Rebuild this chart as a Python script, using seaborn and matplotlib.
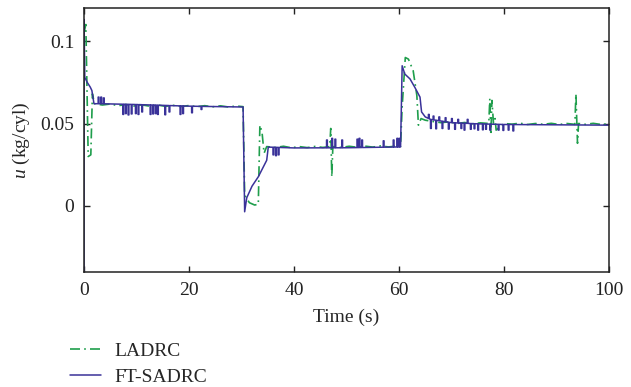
import numpy as np
import pandas as pd
import matplotlib
matplotlib.use("Agg")
import matplotlib.pyplot as plt
import seaborn as sns

# ---------------- data ----------------
x_ticks = [0, 20, 40, 60, 80, 100]
y_ticks = [0, 0.05, 0.1]
y_tick_labels = ["0", "0.05", "0.1"]
series_names = ["LADRC", "FT-SADRC"]

# FT-SADRC base trajectory (time s, u kg/cyl)
ft_t = [0, 0.02, 0.06, 0.15, 0.6, 1.2, 1.5, 1.9, 3.0, 10, 20, 30.3,
        30.6, 31.0, 32.0, 33.2, 34.8, 35.1, 40, 50, 60.3,
        60.6, 61.1, 62.1, 63.0, 64.0, 64.3, 65.0, 66, 70, 75, 80, 90, 100]
ft_u = [-0.040, 0.113, 0.100, 0.078, 0.075, 0.072, 0.070, 0.062, 0.062, 0.0615, 0.0605, 0.0600,
        -0.0035, 0.005, 0.012, 0.0177, 0.0277, 0.0357, 0.0352, 0.0353, 0.0358,
        0.085, 0.080, 0.077, 0.072, 0.066, 0.057, 0.054, 0.0525, 0.0505, 0.0498, 0.0494, 0.0492, 0.0490]

# FT-SADRC switching pulses (time s, pulse level)
ft_pulse_t = [2.7, 3.2, 3.7,
              7.4, 7.9, 8.4, 9.0, 9.8, 10.3, 11.0, 12.6, 13.1, 13.6, 14.0, 15.4, 16.2,
              18.3, 18.8, 20.5, 22.3,
              36.0, 36.5, 37.0,
              46.2, 47.2, 47.8, 49.1, 52.0, 52.4, 52.9, 57.0, 58.9, 59.6, 60.0,
              65.6, 66.0, 66.5, 67.0, 67.6, 68.2, 68.8, 69.4, 70.0, 70.6, 71.2, 71.8,
              72.4, 73.0, 73.6, 74.3, 75.0, 75.9, 76.5, 77.3, 78.9, 79.8, 80.8, 81.7]
ft_pulse_u = [0.066, 0.066, 0.0655,
              0.0555, 0.056, 0.0552, 0.0558, 0.056, 0.0555, 0.057, 0.0555, 0.0558, 0.056, 0.0555,
              0.0553, 0.057, 0.0555, 0.056, 0.0565, 0.0585,
              0.031, 0.0305, 0.031,
              0.040, 0.041, 0.0405, 0.040, 0.0405, 0.041, 0.040, 0.0395, 0.040, 0.041, 0.041,
              0.0555, 0.047, 0.0545, 0.0468, 0.054, 0.047, 0.0535, 0.0466, 0.053, 0.0465,
              0.0525, 0.047, 0.046, 0.0525, 0.0465, 0.0468, 0.046, 0.0462, 0.0465, 0.046,
              0.046, 0.0458, 0.046, 0.0455]

# LADRC trajectory, by segment (time s, u kg/cyl)
lad_t_start = [0.0, 0.35, 0.8, 1.3, 1.6, 2.0]
lad_u_start = [0.105, 0.110, 0.030, 0.031, 0.068, 0.062]
lad_t_a = [3.5, 5.0, 6.5, 8.0, 9.5, 11.0, 12.5, 14.0, 15.5, 17.0, 18.5, 20.0, 21.5,
           23.0, 24.5, 26.0, 27.5, 29.0, 30.3]
lad_u_a = [0.0612, 0.0618, 0.0608, 0.0615, 0.0606, 0.0613, 0.0605, 0.0612, 0.0604, 0.0610,
           0.0603, 0.0609, 0.0602, 0.0608, 0.0601, 0.0607, 0.0600, 0.0606, 0.0602]
lad_t_b = [30.6, 31.5, 32.5, 33.2, 33.5, 33.9, 34.3, 34.8]
lad_u_b = [0.0066, 0.0020, 0.0006, 0.0010, 0.0490, 0.0450, 0.0320, 0.0360]
lad_t_c = [36.5, 38.0, 39.5, 41.0, 42.5, 44.0, 45.5, 46.8, 47.0, 47.2, 47.4, 49.0, 50.5,
           52.0, 53.5, 55.0, 56.5, 58.0, 59.5, 60.3]
lad_u_c = [0.0355, 0.0362, 0.0353, 0.0360, 0.0354, 0.0361, 0.0355, 0.0360, 0.0470, 0.0176,
           0.0360, 0.0355, 0.0362, 0.0356, 0.0363, 0.0357, 0.0364, 0.0358, 0.0363, 0.0362]
lad_t_d = [60.6, 61.2, 61.8, 62.7, 63.4, 63.7, 64.2, 65.0]
lad_u_d = [0.0600, 0.0900, 0.0890, 0.0820, 0.0670, 0.0490, 0.0530, 0.0520]
lad_t_e = [66.5, 68.0, 69.5, 71.0, 72.5, 74.0, 75.5, 77.1, 77.3, 77.5, 77.7, 78.0, 78.3,
           78.5, 80.0, 81.5, 83.0, 84.5, 86.0, 87.5, 89.0, 90.5, 92.0, 93.5, 93.7, 94.0,
           94.2, 95.5, 97.0, 98.5, 100.0]
lad_u_e = [0.0512, 0.0505, 0.0510, 0.0500, 0.0506, 0.0498, 0.0504, 0.0500, 0.0650, 0.0430,
           0.0640, 0.0500, 0.0530, 0.0460, 0.0500, 0.0496, 0.0502, 0.0494, 0.0500, 0.0495,
           0.0501, 0.0494, 0.0500, 0.0495, 0.0680, 0.0380, 0.0500, 0.0495, 0.0501, 0.0494,
           0.0498]

lad_t = lad_t_start + lad_t_a + lad_t_b + lad_t_c + lad_t_d + lad_t_e
lad_u = lad_u_start + lad_u_a + lad_u_b + lad_u_c + lad_u_d + lad_u_e

# ---------------- build FT-SADRC series with pulses ----------------
PW = 0.15
ft_t_arr = np.array(ft_t, dtype=float)
ft_u_arr = np.array(ft_u, dtype=float)
pts = list(zip(ft_t, ft_u))
for tp, up in zip(ft_pulse_t, ft_pulse_u):
    b0 = float(np.interp(tp, ft_t_arr, ft_u_arr))
    b1 = float(np.interp(tp + PW, ft_t_arr, ft_u_arr))
    pts += [(tp - 1e-4, b0), (tp, up), (tp + PW, up), (tp + PW + 1e-4, b1)]
pts.sort(key=lambda p: p[0])
ft_df = pd.DataFrame(pts, columns=["t", "u"])
ft_df["series"] = series_names[1]
lad_df = pd.DataFrame({"t": lad_t, "u": lad_u})
lad_df["series"] = series_names[0]

# ---------------- plot ----------------
sns.set_theme(style="ticks")
plt.rcParams["font.family"] = ["Liberation Serif", "DejaVu Serif"]
plt.rcParams["mathtext.fontset"] = "custom"
plt.rcParams["mathtext.it"] = "Liberation Serif:italic"
plt.rcParams["mathtext.rm"] = "Liberation Serif"

fig = plt.figure(figsize=(6.31, 3.87), dpi=100)
ax = fig.add_axes([84 / 631, 1 - 272 / 387, (609 - 84) / 631, (272 - 8) / 387])

green = "#1f9e4c"
blue = "#3a3299"
dashdot = (0, (6, 2.5, 1, 2.5))
sns.lineplot(data=lad_df, x="t", y="u", ax=ax, sort=False, estimator=None,
             color=green, linewidth=1.2, label=series_names[0])
ax.lines[-1].set_linestyle(dashdot)
sns.lineplot(data=ft_df, x="t", y="u", ax=ax, sort=False, estimator=None,
             color=blue, linewidth=1.1, label=series_names[1])

ax.set_xlim(0, 100)
ax.set_ylim(-0.04, 0.12)
ax.set_xticks(x_ticks)
ax.set_xticklabels([str(v) for v in x_ticks])
ax.set_yticks(y_ticks)
ax.set_yticklabels(y_tick_labels)
ax.tick_params(direction="in", length=4, width=1, top=True, right=True,
               labelsize=14, colors="#222222", pad=7)
for s in ax.spines.values():
    s.set_linewidth(1.1)
    s.set_color("#222222")
ax.set_xlabel("Time (s)", fontsize=14, labelpad=7)
ax.set_ylabel(r"$u$ (kg/cyl)", fontsize=14, labelpad=6)

handles, labels = ax.get_legend_handles_labels()
ax.get_legend().remove()
leg = fig.legend(handles, labels, loc="upper left",
                 bbox_to_anchor=(70 / 631, 1 - 342 / 387),
                 frameon=False, fontsize=14, handlelength=1.6,
                 handletextpad=0.7, labelspacing=0.45, borderpad=0, borderaxespad=0)
leg.get_lines()[0].set_linestyle(dashdot)

fig.savefig("out.png", dpi=100)
